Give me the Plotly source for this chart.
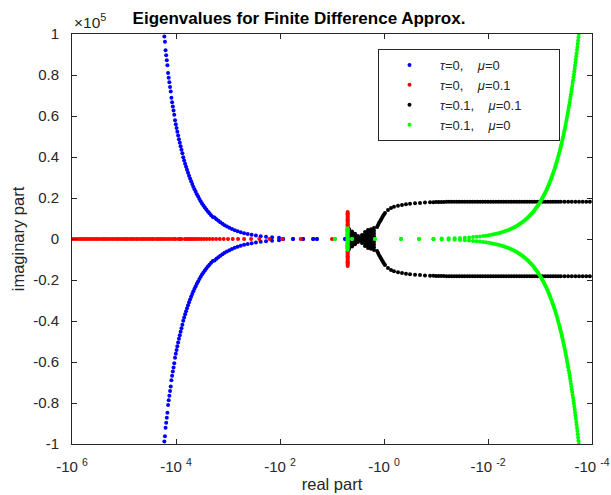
import math
import plotly.graph_objects as go

# ---- tau=0, mu=0 (blue): upper branch, conjugates mirrored below ----
blue_re = [-5.6, -19.5, -23, -36, -56, -87,
           -104.4, -142.1, -185.6, -234.9, -290, -350.9, -417.6, -490.1, -568.4, -652.5,
           -742.4, -838.1, -939.6, -1046.9, -1160, -1278.9, -1403.6, -1534.1, -1670.4, -1812.5,
           -1960.4, -2114.1, -2273.6, -2438.9, -2610, -2786.9, -2969.6, -3158.1, -3352.4, -3552.5,
           -3758.4, -3970.1, -4187.6, -4410.9, -4640, -4874.9, -5115.6, -5362.1, -5614.4, -5872.5,
           -6136.4, -6406.1, -6681.6, -6962.9, -7250, -7542.9, -7841.6, -8146.1, -8456.4, -8772.5,
           -9094.4, -9422.1, -9755.6, -10094.9, -10440, -10790.9, -11147.6, -11510.1, -11878.4, -12252.5,
           -12632.4, -13018.1, -13409.6, -13806.9, -14210, -14618.9, -15033.6, -15454.1, -15880.4, -16312.5,
           -16750.4, -17194.1]
blue_im = [0, 0, 0, 0, 0, 0,
           606, 824, 1076, 1362, 1682, 2035, 2422, 2843, 3297, 3785,
           4306, 4861, 5450, 6072, 6728, 7418, 8141, 8898, 9688, 10513,
           10782, 11628, 12505, 13414, 14355, 15328, 16333, 17370, 18438, 19539,
           20671, 21836, 23032, 24260, 25520, 26812, 28136, 29492, 30879, 32299,
           33750, 35234, 36749, 38296, 39875, 41863, 43521, 45211, 46933, 48687,
           50474, 52293, 54144, 56027, 57942, 60645, 62650, 64687, 66757, 68859,
           72005, 74203, 76435, 78699, 80997, 84790, 87195, 89634, 92106, 96244,
           98827, 101445]

# ---- tau=0, mu=0.1 (red): real eigenvalues plus a vertical cluster ----
red_axis_re = [-10, -40, -90, -160, -250, -360, -490, -640, -810, -1000,
               -1210, -1440, -1690, -1960, -2250, -2560, -2890, -3240, -3610, -4000,
               -4410, -4840, -5290, -5760, -6250, -6760, -7840, -8410, -9000, -10240,
               -10890, -12250, -13690, -15210, -16810, -18490, -20250, -22090, -24010, -27040,
               -29160, -32490, -36000, -39690, -43560, -47610, -53290, -57760, -64000, -70560,
               -77440, -86490, -94090, -104040, -114490, -127690, -139240, -153760, -169000, -187690,
               -207360, -228010, -249640, -275560, -306250, -334890, -368640, -408040, -449440, -497290,
               -547560, -605160, -665640, -734410, -806560, -894010, -985960, -1089000]
red_bar_re = -5.0
red_bar_im = [0, 600, 1200, 1800, 2400, 3000, 3600, 4200, 4800, 5400, 6000, 6600,
              7200, 7800, 8400, 9000, 9600, 10200, 10800, 11400, 12000, 12600, 13200]

# ---- tau=0.1, mu=0.1 (black) ----
black_re = [-4.71, -4.71, -4.71, -4.71, -4.71, -4.71,
            -4.12, -4.12, -4.12, -4.12, -4.12,
            -3.61, -3.61, -3.61, -3.61,
            -3.16, -3.16, -3.16,
            -2.83, -2.83,
            -2.65, -2.65, -2.65,
            -2.32, -2.32, -2.32, -2.32,
            -2.03, -2.03, -2.03, -2.03, -2.03,
            -1.78, -1.78, -1.78, -1.78, -1.78,
            -1.56, -1.56, -1.56, -1.56,
            -1.36, -1.30, -1.25, -1.19, -1.14, -1.09, -1.045, -1.0, -0.957, -0.838,
            -0.733, -0.642, -0.538, -0.451, -0.378, -0.316, -0.253, -0.203, -0.163, -0.130,
            -0.112, -0.1, -0.0891, -0.0794, -0.0708, -0.0631, -0.0562, -0.0501, -0.0447, -0.0398,
            -0.0355, -0.0316, -0.0282, -0.0251, -0.0224, -0.02, -0.0178, -0.0158, -0.0141, -0.0126,
            -0.0112, -0.01, -0.00891, -0.00794, -0.00708, -0.00631, -0.00562, -0.00501, -0.00447, -0.00398,
            -0.00355, -0.00316, -0.00282, -0.00251, -0.00224, -0.002, -0.00178, -0.00158, -0.00141, -0.00126,
            -0.00112, -0.001, -0.000891, -0.000794, -0.000708, -0.000631, -0.000562, -0.000501, -0.000447, -0.000398,
            -0.000339, -0.000288, -0.000245, -0.000209, -0.000178, -0.000151, -0.000129, -0.00011]
black_im = [0, 1000, 2000, 3000, 4000, 4900,
            0, 1000, 2000, 3000, 3700,
            0, 1000, 2000, 2600,
            0, 700, 1450,
            0, 500,
            0, 1000, 1950,
            0, 1100, 2200, 3400,
            0, 1100, 2200, 3300, 4400,
            0, 1200, 2400, 3600, 4700,
            1300, 2700, 4000, 5400,
            5850, 6830, 7800, 8680, 9500, 10390, 11200, 11950, 12700, 14100,
            15100, 15700, 16200, 16600, 16900, 17200, 17400, 17600, 17750, 17900,
            17950, 18000, 18050, 18080, 18100, 18120, 18140, 18150, 18150, 18150,
            18150, 18150, 18150, 18150, 18150, 18150, 18150, 18150, 18150, 18150,
            18150, 18150, 18150, 18150, 18150, 18150, 18150, 18150, 18150, 18150,
            18150, 18150, 18150, 18150, 18150, 18150, 18150, 18150, 18150, 18150,
            18150, 18150, 18150, 18150, 18150, 18150, 18150, 18150, 18150, 18150,
            18150, 18150, 18150, 18150, 18150, 18150, 18150, 18150]

# ---- tau=0.1, mu=0 (green) ----
green_re = [-8.75, -4.12, -1.49, -0.471, -0.212,
            -0.112, -0.0778, -0.0571, -0.0438, -0.0346, -0.028, -0.0231, -0.0194, -0.0166, -0.0143,
            -0.0124, -0.0109, -0.00969, -0.00864, -0.00776, -0.007, -0.00635, -0.00579, -0.00529, -0.00486,
            -0.00448, -0.00414, -0.00384, -0.00357, -0.00333, -0.00311, -0.00291, -0.00273, -0.00257, -0.00242,
            -0.00229, -0.00216, -0.00205, -0.00194, -0.00184, -0.00175, -0.00167, -0.00159, -0.00151, -0.00145,
            -0.00138, -0.00132, -0.00127, -0.00122, -0.00117, -0.00112, -0.00108, -0.00104, -0.000997, -0.00096,
            -0.000926, -0.000893, -0.000862, -0.000832, -0.000804, -0.000778, -0.000752, -0.000728, -0.000705, -0.000684,
            -0.000663, -0.000643, -0.000624, -0.000606, -0.000588, -0.000571, -0.000555, -0.00054, -0.000525, -0.000511,
            -0.000498, -0.000485, -0.000472, -0.00046, -0.000449, -0.000438, -0.000427, -0.000416, -0.000406, -0.000397,
            -0.000388, -0.000379, -0.00037, -0.000362, -0.000353, -0.000346, -0.000338, -0.000331, -0.000324, -0.000317,
            -0.00031, -0.000304, -0.000298, -0.000292, -0.000286, -0.00028, -0.000274, -0.000269, -0.000264, -0.000259,
            -0.000254, -0.000249, -0.000245, -0.00024, -0.000236, -0.000231, -0.000227, -0.000223, -0.000219, -0.000215,
            -0.000212, -0.000208, -0.000205, -0.000201, -0.000198, -0.000194, -0.000191, -0.000188, -0.000185, -0.000182,
            -0.000179]
green_im = [0, 0, 0, 0, 0,
            160, 230, 314, 410, 518, 640, 774, 922, 1082, 1254,
            1440, 1638, 1850, 2074, 2310, 2560, 2822, 3098, 3386, 3686,
            4000, 4326, 4666, 5018, 5382, 5760, 6150, 6554, 6970, 7398,
            7840, 8294, 8762, 9242, 9734, 10240, 10758, 11290, 11834, 12390,
            12960, 13542, 14138, 14746, 15366, 16000, 16646, 17306, 17978, 18662,
            19360, 20070, 20794, 21530, 22278, 23040, 23814, 24602, 25402, 26214,
            27040, 27878, 28730, 29594, 30470, 31360, 32262, 33178, 34106, 35046,
            36000, 36966, 37946, 38938, 39942, 40960, 41990, 43034, 44090, 45158,
            46240, 47334, 48442, 49562, 50694, 51840, 52998, 54170, 55354, 56550,
            57760, 58982, 60218, 61466, 62726, 64000, 65286, 66586, 67898, 69222,
            70560, 71910, 73274, 74650, 76038, 77440, 78854, 80282, 81722, 83174,
            84640, 86118, 87610, 89114, 90630, 92160, 93702, 95258, 96826, 98406,
            100000]
green_bar_re = -5.0
green_bar_im = [0, 600, 1200, 1800, 2400, 3000, 3600, 4200, 4800, 5300]

# axis labels
x_exponents = [6, 4, 2, 0, -2, -4]
y_ticks = [-1.0, -0.8, -0.6, -0.4, -0.2, 0.0, 0.2, 0.4, 0.6, 0.8, 1.0]
y_labels = ["-1", "-0.8", "-0.6", "-0.4", "-0.2", "0", "0.2", "0.4", "0.6", "0.8", "1"]
SP = "\u00a0"
series_names = [f"<i>\u03c4</i>=0,{SP * 4}<i>\u03bc</i>=0",
                f"<i>\u03c4</i>=0,{SP * 4}<i>\u03bc</i>=0.1",
                f"<i>\u03c4</i>=0.1,{SP * 4}<i>\u03bc</i>=0.1{SP * 9}",
                f"<i>\u03c4</i>=0.1,{SP * 4}<i>\u03bc</i>=0"]
FONT = "Liberation Sans, Arial, Helvetica, sans-serif"
AX = "#262626"


def lg(vals):
    # the real axis is shown as -10^p, so points are placed at p = log10(-Re)
    return [math.log10(-v) for v in vals]


def with_conjugates(re_vals, im_vals):
    xs = lg(re_vals)
    return xs + xs, list(im_vals) + [-v for v in im_vals]


bx, by = with_conjugates(blue_re, blue_im)
rx_bar, ry_bar = with_conjugates([red_bar_re] * len(red_bar_im), red_bar_im)
rx = lg(red_axis_re) + rx_bar
ry = [0] * len(red_axis_re) + ry_bar
kx, ky = with_conjugates(black_re, black_im)
gx, gy = with_conjugates(green_re + [green_bar_re] * len(green_bar_im), green_im + green_bar_im)

fig = go.Figure()
for xs, ys, color, name in [(bx, by, "#0000ff", series_names[0]),
                            (rx, ry, "#ff0000", series_names[1]),
                            (kx, ky, "#000000", series_names[2]),
                            (gx, gy, "#00ff00", series_names[3])]:
    fig.add_trace(go.Scatter(x=xs, y=ys, mode="markers", name=name,
                             marker=dict(color=color, size=4, line=dict(width=0))))

fig.update_layout(
    width=611, height=495,
    margin=dict(l=72, r=19, t=34, b=51, autoexpand=False),
    paper_bgcolor="white", plot_bgcolor="white",
    font=dict(family=FONT, size=14, color=AX),
    title=dict(text="<b>Eigenvalues for Finite Difference Approx.</b>",
               x=299 / 611, xanchor="center", y=1 - 18 / 495, yanchor="middle",
               font=dict(family=FONT, size=17, color="#000000")),
    xaxis=dict(range=[6, -4], tickvals=x_exponents,
               ticktext=[f"-10{SP}<sup>{e}</sup>" for e in x_exponents],
               ticks="inside", ticklen=5, tickwidth=1, tickcolor=AX,
               showline=True, linecolor=AX, linewidth=1, mirror="ticks",
               showgrid=False, zeroline=False, ticklabelstandoff=9, automargin=False,
               tickfont=dict(size=15, color=AX),
               title=dict(text="real part", font=dict(size=16.5, color=AX), standoff=4)),
    yaxis=dict(range=[-1e5, 1e5], tickvals=[v * 1e5 for v in y_ticks], ticktext=y_labels,
               ticks="inside", ticklen=5, tickwidth=1, tickcolor=AX,
               showline=True, linecolor=AX, linewidth=1, mirror="ticks",
               showgrid=False, zeroline=False, ticklabelstandoff=9, automargin=False,
               tickfont=dict(size=15, color=AX),
               title=dict(text="imaginary part", font=dict(size=16.5, color=AX), standoff=4)),
    legend=dict(x=(378 - 72) / 520, y=(444 - 49) / 410, xanchor="left", yanchor="top",
                bgcolor="white", bordercolor=AX, borderwidth=1, itemwidth=51,
                font=dict(size=13, color=AX), itemsizing="trace", tracegroupgap=0),
    annotations=[dict(text="\u00d710<sup>5</sup>", xref="paper", yref="paper",
                      x=0, y=1, xanchor="left", yanchor="bottom", yshift=1,
                      showarrow=False, font=dict(size=15.5, color=AX))],
)

fig.write_html("out.html")
